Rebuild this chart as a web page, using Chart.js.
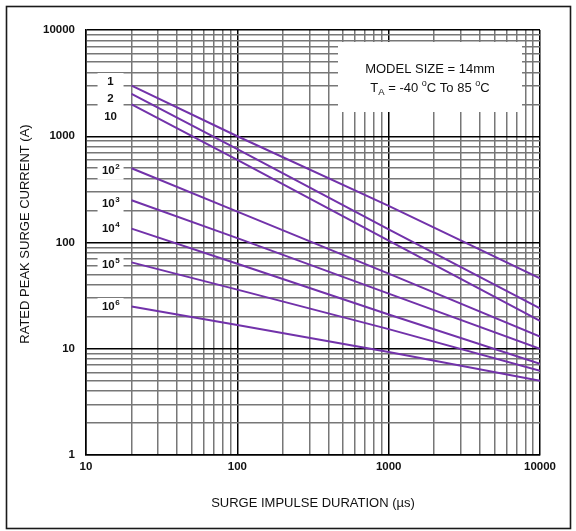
<!DOCTYPE html>
<html>
<head>
<meta charset="utf-8">
<script src="https://cdn.jsdelivr.net/npm/chart.js@4/dist/chart.umd.min.js"></script>
<style>
  html, body { margin: 0; padding: 0; background: #fff; }
  #c { display: block; }
</style>
</head>
<body>
<canvas id="c" width="576" height="531"></canvas>
<script>
// Surge impulse duration (µs) at which each rating curve is read
const durations = [20, 100, 1000, 10000];

// Rated peak surge current (A) for each number of impulses
const pulses1   = [3000, 1000, 221, 46];
const pulses2   = [2500, 755, 133, 24];
const pulses10  = [2000, 600, 104, 18.3];
const pulses1e2 = [500, 195, 51, 13];
const pulses1e3 = [250, 110, 33, 10];
const pulses1e4 = [135, 63, 21, 7.2];
const pulses1e5 = [65, 36, 15.3, 6.2];
const pulses1e6 = [25, 16.7, 9.3, 5];

// Curve labels: base text and superscript exponent
const curveBases = ['1', '2', '10', '10', '10', '10', '10', '10'];
const curveExps  = ['', '', '', '2', '3', '4', '5', '6'];

// Decade tick labels
const xDecades = [10, 100, 1000, 10000];
const yDecades = [1, 10, 100, 1000, 10000];

const series = [pulses1, pulses2, pulses10, pulses1e2, pulses1e3, pulses1e4, pulses1e5, pulses1e6];

const FONT = '"Liberation Sans", Arial, Helvetica, sans-serif';
const LINE_COLOR = '#7232aa';

function isDecade(v) {
  const l = Math.log10(v);
  return Math.abs(l - Math.round(l)) < 1e-9;
}

// 1..9 x 10^n grid between the first and last decade
function logGrid(decades) {
  const out = [];
  for (let i = 0; i < decades.length - 1; i++) {
    for (let k = 1; k < 10; k++) out.push(decades[i] * k);
  }
  out.push(decades[decades.length - 1]);
  return out;
}

const gridColor = (c) => (c.tick && isDecade(c.tick.value)) ? '#000' : '#777';

const decor = {
  id: 'decor',
  beforeDraw(chart) {
    const ctx = chart.ctx;
    ctx.save();
    ctx.fillStyle = '#fff';
    ctx.fillRect(0, 0, chart.width, chart.height);
    ctx.restore();
  },
  afterDraw(chart) {
    const ctx = chart.ctx;
    const xs = chart.scales.x, ys = chart.scales.y;
    ctx.save();

    // outer frame
    ctx.strokeStyle = '#1a1a1a';
    ctx.lineWidth = 1.6;
    ctx.strokeRect(6.5, 6.5, 564, 522);

    // curve labels with white backing
    const yNudge = [-4, 5, 13, 3, 3.5, 0, 2, 0];
    const cx = xs.getPixelForValue(durations[0]) - 21;
    ctx.textBaseline = 'middle';
    series.forEach((s, i) => {
      const y = ys.getPixelForValue(s[0]) + yNudge[i];
      ctx.fillStyle = '#fff';
      ctx.fillRect(cx - 13, y - 8.5, 26, 17);
    });
    series.forEach((s, i) => {
      const y = ys.getPixelForValue(s[0]) + yNudge[i];
      ctx.fillStyle = '#111';
      ctx.font = 'bold 11.5px ' + FONT;
      const bw = ctx.measureText(curveBases[i]).width;
      let ew = 0;
      if (curveExps[i]) {
        ctx.font = 'bold 8px ' + FONT;
        ew = ctx.measureText(curveExps[i]).width;
      }
      const x0 = cx - (bw + ew) / 2;
      ctx.font = 'bold 11.5px ' + FONT;
      ctx.textAlign = 'left';
      ctx.fillText(curveBases[i], x0, y);
      if (curveExps[i]) {
        ctx.font = 'bold 8px ' + FONT;
        ctx.fillText(curveExps[i], x0 + bw + 0.5, y - 4);
      }
    });

    // conditions box
    ctx.fillStyle = '#fff';
    ctx.fillRect(338, 42, 184, 70);
    ctx.fillStyle = '#111';
    ctx.font = '13px ' + FONT;
    ctx.textAlign = 'center';
    ctx.fillText('MODEL SIZE = 14mm', 430, 69);

    const parts = [
      ['T', 13, 0], ['A', 9.5, 4], [' = -40 ', 13, 0], ['o', 9, -4],
      ['C To 85 ', 13, 0], ['o', 9, -4], ['C', 13, 0]
    ];
    let total = 0;
    parts.forEach(p => { ctx.font = p[1] + 'px ' + FONT; p.push(ctx.measureText(p[0]).width); total += p[3]; });
    let px = 430 - total / 2;
    ctx.textAlign = 'left';
    parts.forEach(p => {
      ctx.font = p[1] + 'px ' + FONT;
      ctx.fillText(p[0], px, 88 + p[2]);
      px += p[3];
    });

    // axis titles
    ctx.font = '13px ' + FONT;
    ctx.fillStyle = '#111';
    ctx.textAlign = 'center';
    ctx.fillText('SURGE IMPULSE DURATION (\u00b5s)', (xs.left + xs.right) / 2, 503);
    ctx.translate(25, 234);
    ctx.rotate(-Math.PI / 2);
    ctx.fillText('RATED PEAK SURGE CURRENT (A)', 0, 0);
    ctx.restore();
  }
};

new Chart(document.getElementById('c'), {
  type: 'line',
  data: {
    datasets: series.map((vals, i) => ({
      label: curveBases[i] + (curveExps[i] ? '^' + curveExps[i] : ''),
      data: durations.map((d, j) => ({ x: d, y: vals[j] })),
      borderColor: LINE_COLOR,
      borderWidth: 2,
      pointRadius: 0,
      tension: 0,
      fill: false
    }))
  },
  options: {
    responsive: false,
    animation: false,
    devicePixelRatio: 1,
    layout: { padding: { left: 0, right: 36, top: 30, bottom: 0 } },
    plugins: { legend: { display: false }, tooltip: { enabled: false } },
    scales: {
      x: {
        type: 'logarithmic',
        min: xDecades[0],
        max: xDecades[xDecades.length - 1],
        afterBuildTicks: (s) => { s.ticks = logGrid(xDecades).map(v => ({ value: v })); },
        afterFit: (s) => { s.height = 76; },
        ticks: {
          autoSkip: false, maxRotation: 0, minRotation: 0, padding: 5,
          color: '#111', font: { family: FONT, size: 11.5, weight: 'bold' },
          callback: (v) => isDecade(v) ? String(Math.round(v)) : ''
        },
        grid: { drawTicks: false, color: gridColor, lineWidth: 1.5 },
        border: { display: true, color: '#000', width: 1.5 }
      },
      y: {
        type: 'logarithmic',
        min: yDecades[0],
        max: yDecades[yDecades.length - 1],
        afterBuildTicks: (s) => { s.ticks = logGrid(yDecades).map(v => ({ value: v })); },
        afterFit: (s) => { s.width = 86; },
        ticks: {
          autoSkip: false, padding: 11,
          color: '#111', font: { family: FONT, size: 11.5, weight: 'bold' },
          callback: (v) => isDecade(v) ? String(Math.round(v)) : ''
        },
        grid: { drawTicks: false, color: gridColor, lineWidth: 1.5 },
        border: { display: true, color: '#000', width: 1.5 }
      }
    }
  },
  plugins: [decor]
});
</script>
</body>
</html>
